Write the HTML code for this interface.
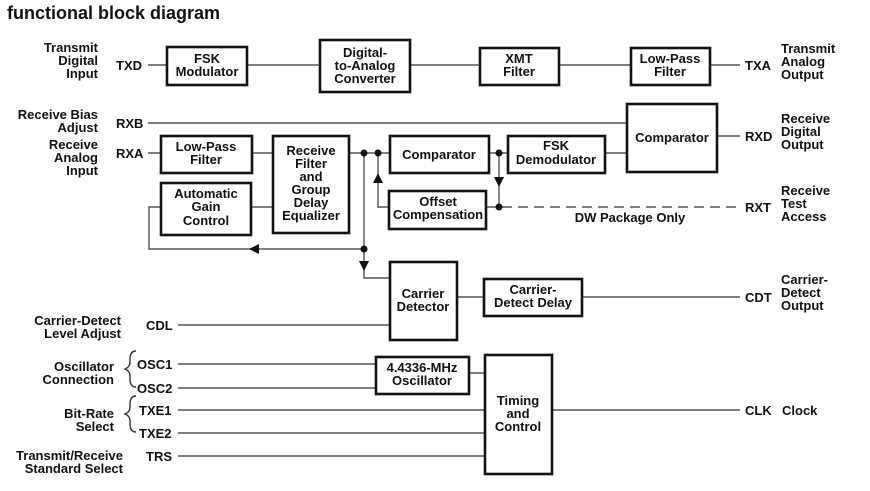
<!DOCTYPE html>
<html><head><meta charset="utf-8"><style>
html,body{margin:0;padding:0;background:#fff;}
svg{display:block;font-family:"Liberation Sans",Arial,sans-serif;font-weight:bold;}
text{font-size:13px;fill:#111;}
.b{fill:#fff;stroke:#111;stroke-width:2.6;}
.l{stroke:#555;stroke-width:1.4;fill:none;}
</style></head><body>
<svg width="870" height="491" viewBox="0 0 870 491" xmlns="http://www.w3.org/2000/svg">
<text x="7" y="19" style="font-size:18px">functional block diagram</text>

<g class="l">
<path d="M148 65H167M247 65H320M410 65H480M559 65H631M710 65H740"/>
<path d="M148 123H627M717 136H740"/>
<path d="M148 153H161M252 153H273M349 153H390M489 153H508M605 153H627"/>
<path d="M378 153V207H389M499 153V207"/>
<path d="M161 207H149V249H364M251 207H273"/>
<path d="M364 153V278H390"/>
<path d="M457 297H484M582 297H740"/>
<path d="M178 325H390"/>
<path d="M178 364H376M178 388H376M469 373H485"/>
<path d="M178 410H485M178 433H485M178 456H485M552 410H740"/>
<path d="M486 207H740" stroke-dasharray="10,6"/>
<path d="M136 351q-6 0-6 8v3q0 5-5 7q5 2 5 7v3q0 8 6 8M136 396q-6 0-6 8v3q0 5-5 7q5 2 5 7v3q0 8 6 8" stroke="#333"/>
</g>
<g fill="#111">
<circle cx="364" cy="153" r="3.5"/><circle cx="378" cy="153" r="3.5"/>
<circle cx="499" cy="153" r="3.5"/><circle cx="499" cy="207" r="3.5"/>
<circle cx="364" cy="249" r="3.5"/>
<path d="M378 173l-5 10h10z"/>
<path d="M499 187l-5 -10h10z"/>
<path d="M249 249l10 -5v10z"/>
<path d="M364 271l-5 -10h10z"/>
</g>

<rect class="b" x="167" y="47" width="80" height="38"/>
<rect class="b" x="320" y="40" width="90" height="52"/>
<rect class="b" x="480" y="48" width="79" height="37"/>
<rect class="b" x="631" y="48" width="79" height="37"/>
<rect class="b" x="627" y="104" width="90" height="68"/>
<rect class="b" x="161" y="136" width="91" height="37"/>
<rect class="b" x="273" y="136" width="76" height="97"/>
<rect class="b" x="161" y="183" width="90" height="52"/>
<rect class="b" x="390" y="136" width="99" height="37"/>
<rect class="b" x="508" y="136" width="97" height="37"/>
<rect class="b" x="389" y="191" width="97" height="38"/>
<rect class="b" x="390" y="262" width="67" height="78"/>
<rect class="b" x="484" y="279" width="98" height="37"/>
<rect class="b" x="376" y="357" width="93" height="37"/>
<rect class="b" x="485" y="355" width="67" height="119"/>

<g text-anchor="middle">
<text x="207" y="63">FSK</text><text x="207" y="76">Modulator</text>
<text x="365" y="57">Digital-</text><text x="365" y="70">to-Analog</text><text x="365" y="83">Converter</text>
<text x="519" y="63">XMT</text><text x="519" y="76">Filter</text>
<text x="670" y="63">Low-Pass</text><text x="670" y="76">Filter</text>
<text x="672" y="142">Comparator</text>
<text x="206" y="151">Low-Pass</text><text x="206" y="164">Filter</text>
<text x="311" y="155">Receive</text><text x="311" y="168">Filter</text><text x="311" y="181">and</text><text x="311" y="194">Group</text><text x="311" y="207">Delay</text><text x="311" y="220">Equalizer</text>
<text x="206" y="198">Automatic</text><text x="206" y="211">Gain</text><text x="206" y="225">Control</text>
<text x="439" y="159">Comparator</text>
<text x="556" y="150">FSK</text><text x="556" y="164">Demodulator</text>
<text x="438" y="206">Offset</text><text x="438" y="219">Compensation</text>
<text x="423" y="298">Carrier</text><text x="423" y="311">Detector</text>
<text x="533" y="294">Carrier-</text><text x="533" y="307">Detect Delay</text>
<text x="422" y="372">4.4336-MHz</text><text x="422" y="385">Oscillator</text>
<text x="518" y="405">Timing</text><text x="518" y="418">and</text><text x="518" y="431">Control</text>
<text x="630" y="222">DW Package Only</text>
</g>

<g text-anchor="end">
<text x="98" y="52">Transmit</text><text x="98" y="65">Digital</text><text x="98" y="78">Input</text>
<text x="98" y="119">Receive Bias</text><text x="98" y="132">Adjust</text>
<text x="98" y="149">Receive</text><text x="98" y="162">Analog</text><text x="98" y="175">Input</text>
<text x="121" y="325">Carrier-Detect</text><text x="121" y="338">Level Adjust</text>
<text x="114" y="371">Oscillator</text><text x="114" y="384">Connection</text>
<text x="114" y="418">Bit-Rate</text><text x="114" y="431">Select</text>
<text x="123" y="460">Transmit/Receive</text><text x="123" y="473">Standard Select</text>
</g>
<g>
<text x="116" y="70">TXD</text>
<text x="116" y="128">RXB</text>
<text x="116" y="158">RXA</text>
<text x="146" y="330">CDL</text>
<text x="137" y="369">OSC1</text>
<text x="137" y="393">OSC2</text>
<text x="139" y="415">TXE1</text>
<text x="139" y="438">TXE2</text>
<text x="146" y="461">TRS</text>
<text x="745" y="70">TXA</text>
<text x="745" y="141">RXD</text>
<text x="745" y="212">RXT</text>
<text x="745" y="302">CDT</text>
<text x="745" y="415">CLK</text><text x="782" y="415">Clock</text>
<text x="781" y="53">Transmit</text><text x="781" y="66">Analog</text><text x="781" y="79">Output</text>
<text x="781" y="123">Receive</text><text x="781" y="136">Digital</text><text x="781" y="149">Output</text>
<text x="781" y="195">Receive</text><text x="781" y="208">Test</text><text x="781" y="221">Access</text>
<text x="781" y="284">Carrier-</text><text x="781" y="297">Detect</text><text x="781" y="310">Output</text>
</g>
</svg>
</body></html>
